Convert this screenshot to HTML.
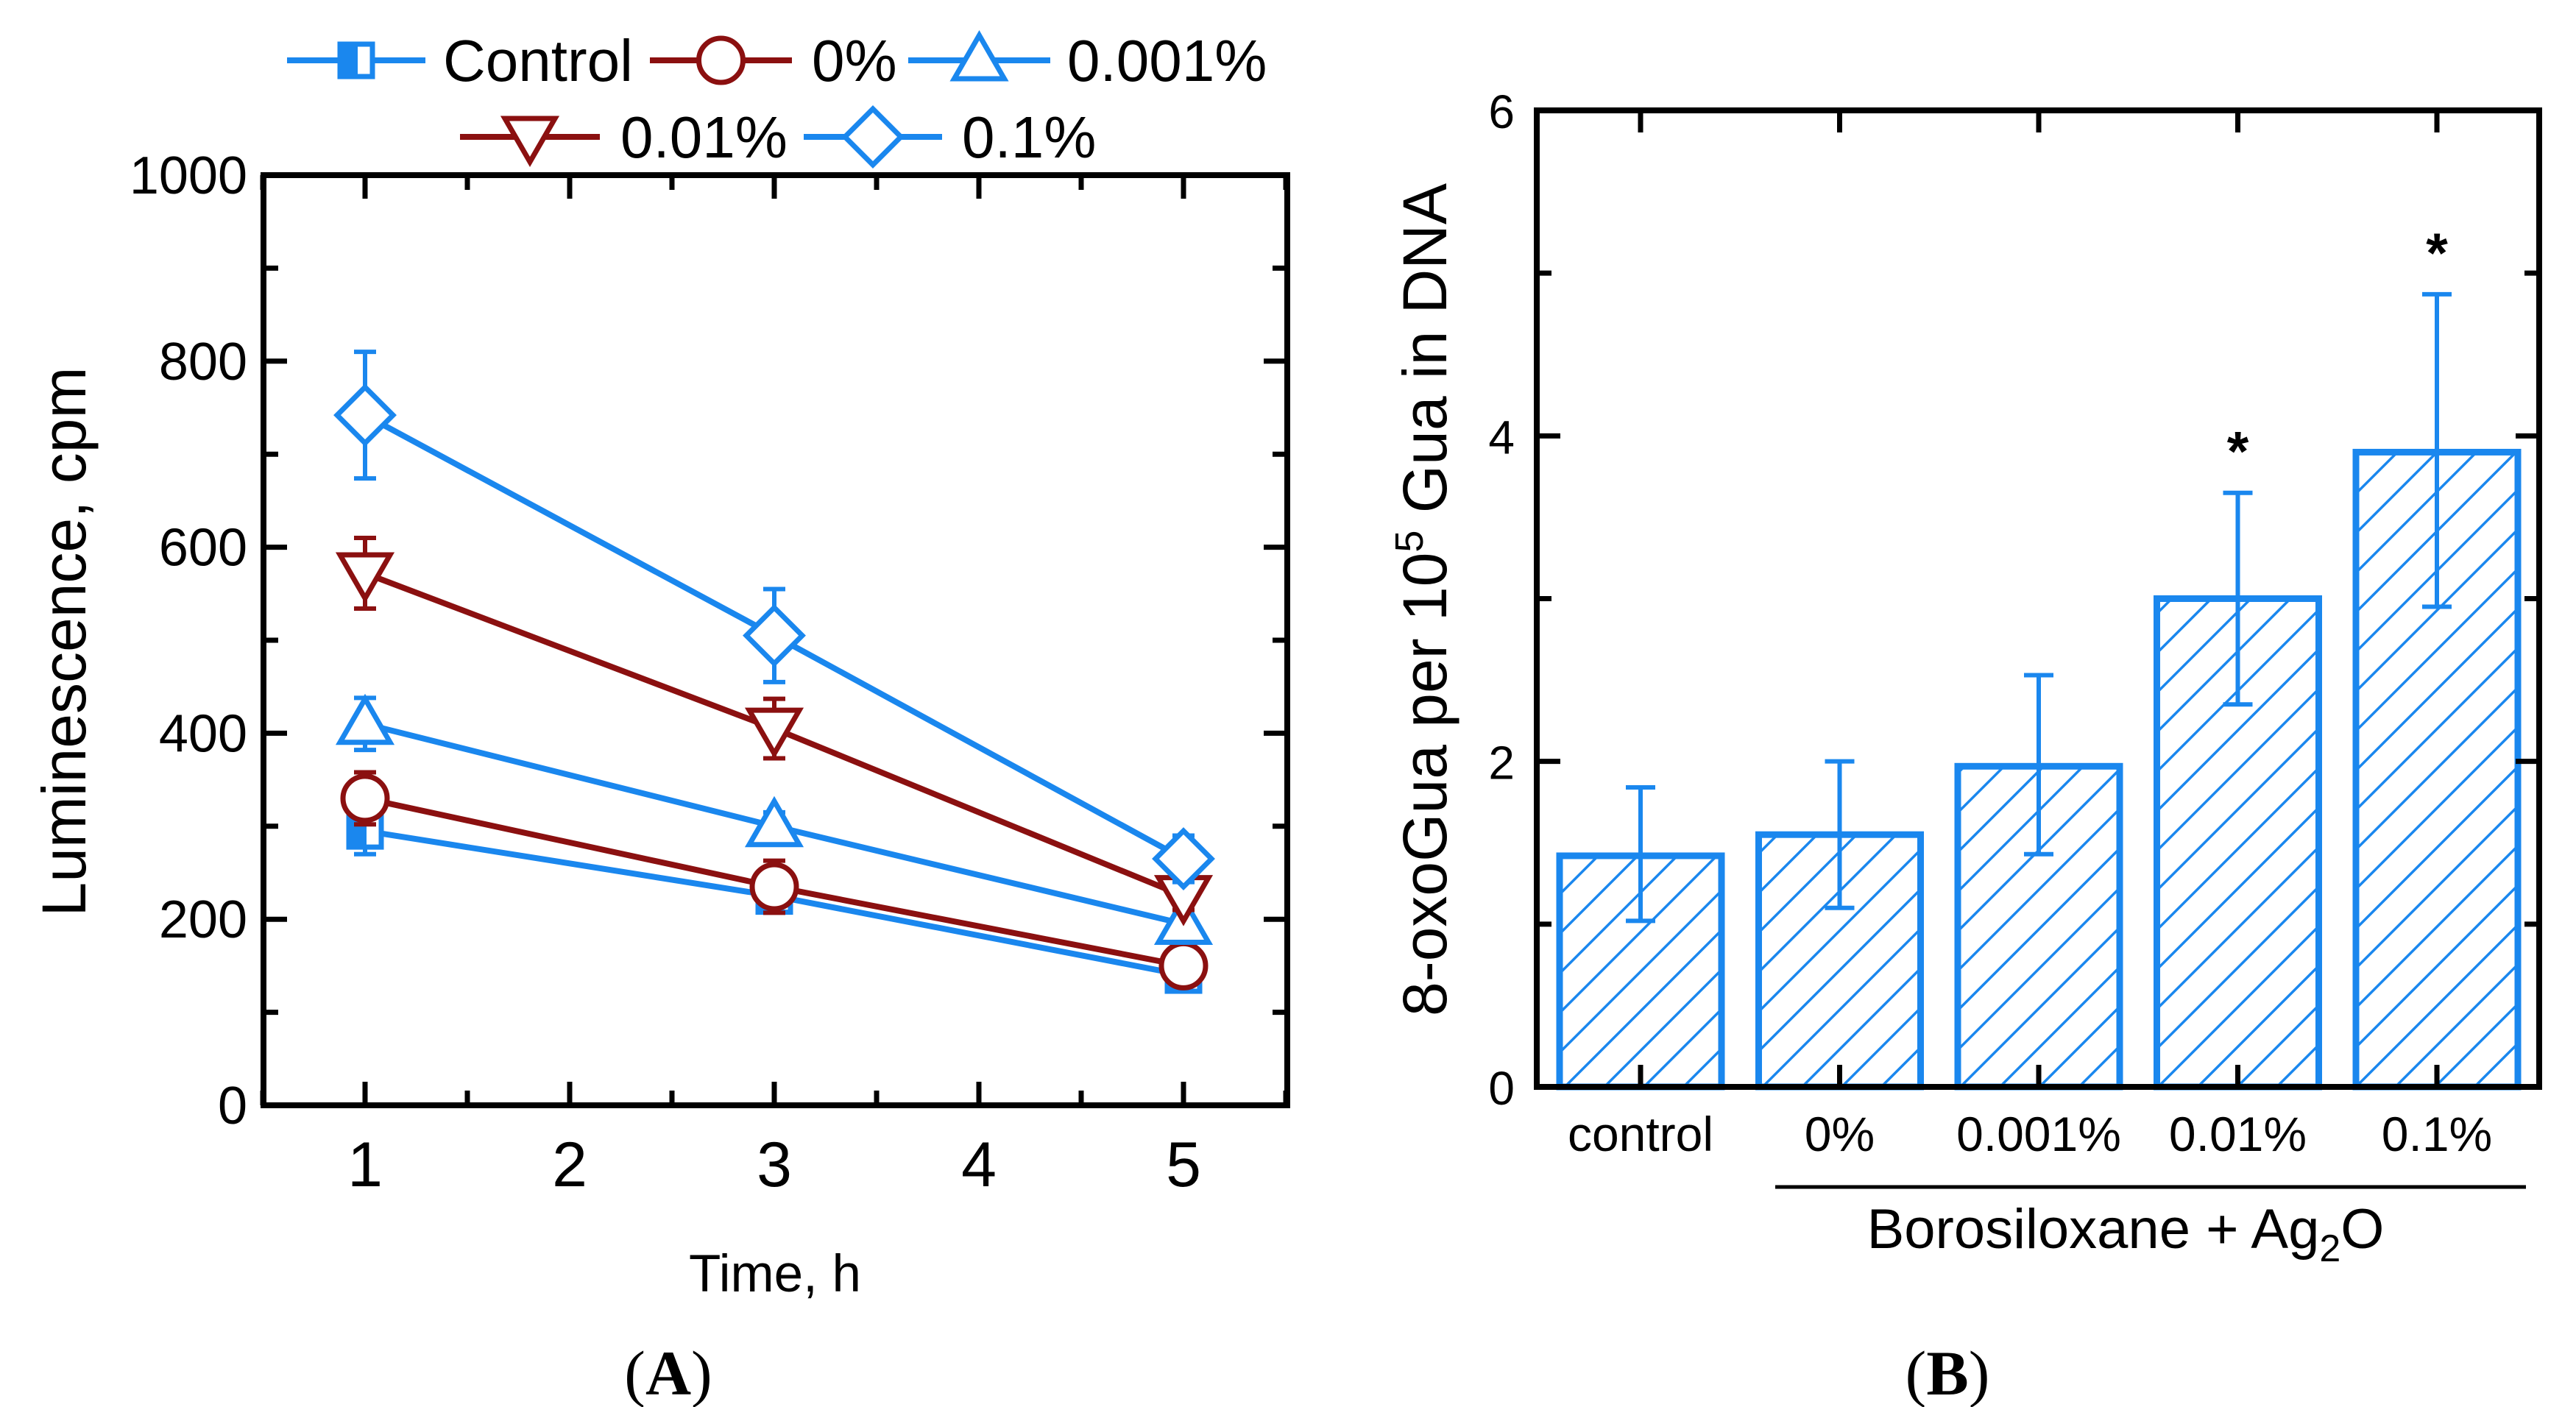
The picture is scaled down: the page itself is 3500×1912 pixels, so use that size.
<!DOCTYPE html>
<html><head><meta charset="utf-8"><style>
html,body{margin:0;padding:0;background:#fff;}
svg{display:block;font-family:"Liberation Sans",sans-serif;}
</style></head><body>
<svg id="svg" width="3500" height="1912" viewBox="0 0 3500 1912" xmlns="http://www.w3.org/2000/svg">
<defs>
<pattern id="hatch" patternUnits="userSpaceOnUse" width="38" height="38" patternTransform="rotate(45)">
<line x1="0" y1="0" x2="0" y2="38" stroke="#1a87ee" stroke-width="7"/>
</pattern>
</defs>
<g id="A"></g>
<g id="B"></g>
<text x="908" y="1895" font-family="Liberation Serif" font-size="86" text-anchor="middle">(<tspan font-weight="bold">A</tspan>)</text>
<text x="2646" y="1895" font-family="Liberation Serif" font-size="86" text-anchor="middle">(<tspan font-weight="bold">B</tspan>)</text>
</svg>
<script>
const times=[1,3,5];
const seriesNames=["Control","0%","0.001%","0.01%","0.1%"];
const ctrlVals=[295,225,140];
const p0Vals=[330,235,150];
const p001Vals=[410,300,195];
const p01Vals=[572,405,225];
const p1Vals=[742,505,265];
const ctrlErr=[25,15,10];
const p0Err=[28,28,10];
const p001Err=[28,15,15];
const p01Err=[38,32,15];
const p1Err=[68,50,25];
const yTicksA=[0,200,400,600,800,1000];
const xTicksA=[1,2,3,4,5];

const barCats=["control","0%","0.001%","0.01%","0.1%"];
const barVals=[1.42,1.55,1.97,3.0,3.9];
const barErrLo=[1.02,1.1,1.43,2.35,2.95];
const barErrHi=[1.84,2.0,2.53,3.65,4.87];
const barStars=[false,false,false,true,true];
const yTicksB=[0,2,4,6];

const NS="http://www.w3.org/2000/svg";
const BLUE="#1a87ee",RED="#8b1010";
function mk(parent,tag,attrs,text){const e=document.createElementNS(NS,tag);for(const k in attrs)e.setAttribute(k,attrs[k]);if(text!==undefined)e.textContent=text;parent.appendChild(e);return e;}

// Panel A
const A=document.getElementById('A');
const aL=358,aR=1749,aT=238,aB=1502;
const xA=v=>496+(v-1)*(1608-496)/4;
const yA=v=>aB-(v/1000)*(aB-aT);
for(let v=0;v<=1000;v+=100){
 const len=v%200===0?32:20;
 let t=mk(A,'line',{x1:aL,x2:aL+len,y1:yA(v),y2:yA(v),stroke:'#000','stroke-width':7});
 
 t=mk(A,'line',{x1:aR,x2:aR-len,y1:yA(v),y2:yA(v),stroke:'#000','stroke-width':7});
 
}
for(let v=0.5;v<=5.5;v+=0.5){
 const len=Number.isInteger(v)?32:20;
 let t=mk(A,'line',{x1:xA(v),x2:xA(v),y1:aB,y2:aB-len,stroke:'#000','stroke-width':7});
 
 t=mk(A,'line',{x1:xA(v),x2:xA(v),y1:aT,y2:aT+len,stroke:'#000','stroke-width':7});
 
}
let fr=mk(A,'rect',{x:aL,y:aT,width:aR-aL,height:aB-aT,fill:'none',stroke:'#000','stroke-width':8});

yTicksA.forEach(v=>{const t=mk(A,'text',{x:aL-22,y:yA(v)+25,'font-size':72,'text-anchor':'end'},String(v));
 });
xTicksA.forEach(v=>{const t=mk(A,'text',{x:xA(v),y:1612,'font-size':86,'text-anchor':'middle'},String(v));
 });
let tt=mk(A,'text',{x:0,y:0,'font-size':84,'text-anchor':'middle',transform:'translate(116,872) rotate(-90)'},'Luminescence, cpm');

tt=mk(A,'text',{x:1053,y:1755,'font-size':71,'text-anchor':'middle'},'Time, h');


function marker(g,type,cx,cy,color){
 let m;
 if(type==='sq'){m=mk(g,'g',{});mk(m,'rect',{x:cx-22,y:cy-22,width:44,height:44,fill:'#fff',stroke:color,'stroke-width':7});mk(m,'rect',{x:cx-22,y:cy-22,width:24,height:44,fill:color});}
 else if(type==='circle')m=mk(g,'circle',{cx:cx,cy:cy,r:30,fill:'#fff',stroke:color,'stroke-width':7});
 else if(type==='up')m=mk(g,'polygon',{points:`${cx},${cy-34} ${cx-34},${cy+25} ${cx+34},${cy+25}`,fill:'#fff',stroke:color,'stroke-width':7});
 else if(type==='down')m=mk(g,'polygon',{points:`${cx},${cy+34} ${cx-34},${cy-25} ${cx+34},${cy-25}`,fill:'#fff',stroke:color,'stroke-width':7});
 else m=mk(g,'polygon',{points:`${cx},${cy-38} ${cx+38},${cy} ${cx},${cy+38} ${cx-38},${cy}`,fill:'#fff',stroke:color,'stroke-width':7});
 
}
const series=[[ctrlVals,ctrlErr,BLUE,'sq'],[p0Vals,p0Err,RED,'circle'],[p001Vals,p001Err,BLUE,'up'],[p01Vals,p01Err,RED,'down'],[p1Vals,p1Err,BLUE,'diamond']];
series.forEach((s,si)=>{
 const g=mk(A,'g',{});
 
 const [vals,errs,col,mt]=s;
 const pts=times.map((t,i)=>xA(t)+','+yA(vals[i])).join(' ');
 const pl=mk(g,'polyline',{points:pts,fill:'none',stroke:col,'stroke-width':8});
 
 times.forEach((t,i)=>{
  const x=xA(t),y1=yA(vals[i]-errs[i]),y2=yA(vals[i]+errs[i]);
  const e=mk(g,'path',{d:`M${x},${y1}V${y2}M${x-15},${y1}H${x+15}M${x-15},${y2}H${x+15}`,stroke:col,'stroke-width':6,fill:'none'});
  
  marker(g,mt,x,yA(vals[i]),col);
 });
});
// legend
const legA=[[390,578,82,602],[883,1076,82,1103],[1234,1427,82,1450],[625,815,186,843],[1092,1280,186,1307]];
series.forEach((s,si)=>{
 const [x1,x2,y,tx]=legA[si];
 const g=mk(A,'g',{});
 
 mk(g,'line',{x1:x1,x2:x2,y1:y,y2:y,stroke:s[2],'stroke-width':8});
 marker(g,s[3],(x1+x2)/2,y,s[2]);
 mk(g,'text',{x:tx,y:y+28,'font-size':80},seriesNames[si]);
});

// Panel B
const B=document.getElementById('B');
const bL=2088,bR=3450,bT=150,bB=1477;
const yB=v=>bB-(v/6)*(bB-bT);
const xB=i=>2229+i*(3311-2229)/4;
const bw=220;
barCats.forEach((c,i)=>{
 const g=mk(B,'g',{});
 
 mk(g,'rect',{x:xB(i)-bw/2,y:yB(barVals[i]),width:bw,height:bB-yB(barVals[i]),fill:'url(#hatch)',stroke:BLUE,'stroke-width':9});
 const x=xB(i),y1=yB(barErrLo[i]),y2=yB(barErrHi[i]);
 const e=mk(g,'path',{d:`M${x},${y1}V${y2}M${x-20},${y1}H${x+20}M${x-20},${y2}H${x+20}`,stroke:BLUE,'stroke-width':6,fill:'none'});
 
 if(barStars[i]){const st=mk(g,'text',{x:x,y:yB(barErrHi[i])-30,'font-size':76,'font-weight':'bold','text-anchor':'middle'},'*');
  }
 const lb=mk(B,'text',{x:x,y:1564,'font-size':66,'text-anchor':'middle'},c);
 
});
for(let v=0;v<=6;v+=1){
 const len=v%2===0?32:20;
 let t=mk(B,'line',{x1:bL,x2:bL+len,y1:yB(v),y2:yB(v),stroke:'#000','stroke-width':7});
 
 t=mk(B,'line',{x1:bR,x2:bR-len,y1:yB(v),y2:yB(v),stroke:'#000','stroke-width':7});
 
}
barCats.forEach((c,i)=>{
 let t=mk(B,'line',{x1:xB(i),x2:xB(i),y1:bB,y2:bB-30,stroke:'#000','stroke-width':7});
 
 t=mk(B,'line',{x1:xB(i),x2:xB(i),y1:bT,y2:bT+30,stroke:'#000','stroke-width':7});
 
});
fr=mk(B,'rect',{x:bL,y:bT,width:bR-bL,height:bB-bT,fill:'none',stroke:'#000','stroke-width':8});

yTicksB.forEach(v=>{const t=mk(B,'text',{x:2058,y:yB(v)+24,'font-size':64,'text-anchor':'end'},String(v));
 });
tt=mk(B,'text',{x:0,y:0,'font-size':84,'text-anchor':'middle',transform:'translate(1965,815) rotate(-90)'});

tt.innerHTML='8-oxoGua per 10<tspan dy="-32" font-size="54">5</tspan><tspan dy="32"> Gua in DNA</tspan>';
let ul=mk(B,'line',{x1:2412,x2:3432,y1:1613,y2:1613,stroke:'#000','stroke-width':5});

tt=mk(B,'text',{x:2888,y:1696,'font-size':76,'text-anchor':'middle'});

tt.innerHTML='Borosiloxane + Ag<tspan dy="18" font-size="52">2</tspan><tspan dy="-18">O</tspan>';
</script>
</body></html>
